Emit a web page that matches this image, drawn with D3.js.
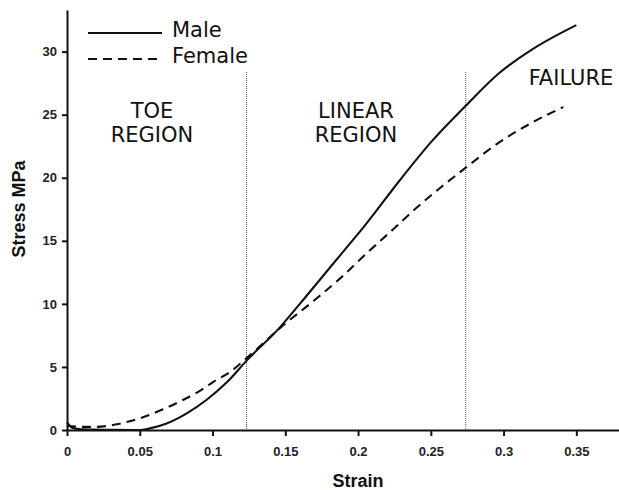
<!DOCTYPE html>
<html>
<head>
<meta charset="utf-8">
<script src="https://cdnjs.cloudflare.com/ajax/libs/d3/7.8.5/d3.min.js"></script>
<style>
  body { margin: 0; background: #fff; }
  .axis path, .axis line { stroke: #111; stroke-width: 2; }
  .axis text { font-family: "Liberation Sans", Arial, sans-serif; font-weight: bold; font-size: 13px; fill: #222; }
  .note { font-family: "DejaVu Sans", Verdana, sans-serif; font-size: 21px; fill: #111; }
  .title { font-family: "Liberation Sans", Arial, sans-serif; font-weight: bold; font-size: 18px; fill: #111; }
</style>
</head>
<body>
<svg id="chart" width="619" height="490"></svg>
<script>
// stress-strain curves
const maleStrain = [0, 0.004, 0.01, 0.03, 0.05, 0.057, 0.068, 0.082, 0.096, 0.11, 0.1234, 0.146, 0.16, 0.183, 0.206, 0.2287, 0.25, 0.274, 0.297, 0.32, 0.35];
const maleStress = [0.6, 0.15, 0.05, 0.02, 0, 0.13, 0.5, 1.3, 2.4, 3.8, 5.5, 8.1, 10.0, 13.2, 16.4, 19.8, 22.8, 25.7, 28.3, 30.2, 32.1];

const femaleStrain = [0, 0.01, 0.02, 0.034, 0.05, 0.066, 0.08, 0.0913, 0.1003, 0.112, 0.1234, 0.1486, 0.1669, 0.1875, 0.2058, 0.224, 0.24, 0.274, 0.297, 0.32, 0.341];
const femaleStress = [0.35, 0.25, 0.25, 0.45, 0.93, 1.64, 2.4, 3.1, 3.8, 4.6, 5.7, 8.3, 10.0, 12.0, 14.0, 15.9, 17.6, 20.8, 22.8, 24.4, 25.6];

const xTicks = [0, 0.05, 0.1, 0.15, 0.2, 0.25, 0.3, 0.35];
const yTicks = [0, 5, 10, 15, 20, 25, 30];
const regionBounds = [0.1234, 0.274];

const svg = d3.select("#chart");

const x = d3.scaleLinear().domain([0, 0.38]).range([67, 620]);
const y = d3.scaleLinear().domain([0, 33.3]).range([430, 10]);

//axes
svg.append("g")
   .attr("class", "axis")
   .attr("transform", "translate(0,430)")
   .call(d3.axisBottom(x).tickValues(xTicks).tickFormat(d => d3.format("")(d)).tickSize(6).tickSizeOuter(0).tickPadding(11));

svg.append("g")
   .attr("class", "axis")
   .attr("transform", "translate(67,0)")
   .call(d3.axisLeft(y).tickValues(yTicks).tickSize(5).tickSizeOuter(0).tickPadding(5));

//region dividers
svg.selectAll(".divider")
   .data(regionBounds)
   .enter().append("line")
   .attr("class", "divider")
   .attr("x1", d => x(d)).attr("x2", d => x(d))
   .attr("y1", 72).attr("y2", 429)
   .attr("stroke", "#555")
   .attr("stroke-width", 1)
   .attr("stroke-dasharray", "1,1");

//curves
const line = d3.line()
   .x(d => x(d[0]))
   .y(d => y(d[1]))
   .curve(d3.curveMonotoneX);

const maleData = maleStrain.map((s, i) => [s, maleStress[i]]);
const femaleData = femaleStrain.map((s, i) => [s, femaleStress[i]]);

svg.append("path")
   .datum(maleData)
   .attr("d", line)
   .attr("fill", "none")
   .attr("stroke", "#111")
   .attr("stroke-width", 2.1);

svg.append("path")
   .datum(femaleData)
   .attr("d", line)
   .attr("fill", "none")
   .attr("stroke", "#111")
   .attr("stroke-width", 2.1)
   .attr("stroke-dasharray", "9,6");

//legend
const legend = [{name: "Male", dash: null, y: 33}, {name: "Female", dash: "9,6", y: 59}];
legend.forEach(l => {
    svg.append("line")
       .attr("x1", 88).attr("x2", 162)
       .attr("y1", l.y).attr("y2", l.y)
       .attr("stroke", "#111")
       .attr("stroke-width", 2.1)
       .attr("stroke-dasharray", l.dash);
    svg.append("text")
       .attr("class", "note")
       .attr("x", 172)
       .attr("y", l.y + 4)
       .text(l.name);
});

//region labels
const notes = [
    {lines: ["TOE", "REGION"], x: 152},
    {lines: ["LINEAR", "REGION"], x: 356}
];
notes.forEach(n => {
    n.lines.forEach((t, i) => {
        svg.append("text")
           .attr("class", "note")
           .attr("x", n.x)
           .attr("y", 118 + i * 24)
           .attr("text-anchor", "middle")
           .text(t);
    });
});
svg.append("text")
   .attr("class", "note")
   .attr("x", 571)
   .attr("y", 85)
   .attr("text-anchor", "middle")
   .text("FAILURE");

//axis titles
svg.append("text")
   .attr("class", "title")
   .attr("x", 358)
   .attr("y", 487)
   .attr("text-anchor", "middle")
   .text("Strain");

svg.append("text")
   .attr("class", "title")
   .attr("transform", "translate(25,209) rotate(-90)")
   .attr("text-anchor", "middle")
   .text("Stress MPa");
</script>
</body>
</html>
